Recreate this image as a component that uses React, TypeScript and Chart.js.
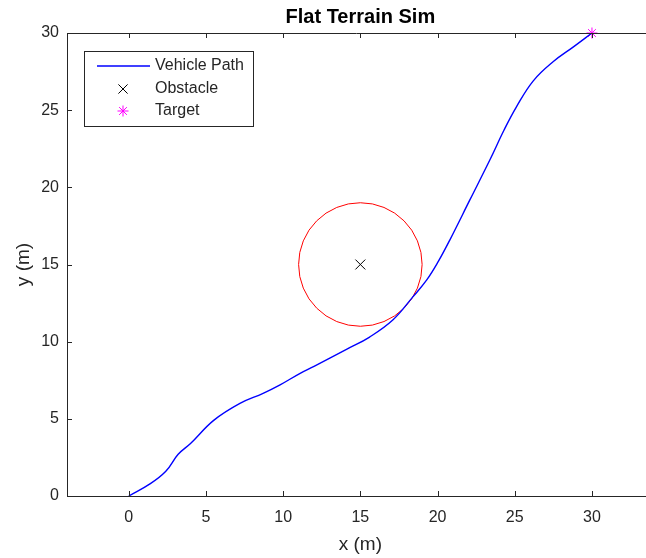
import React, { useEffect, useRef } from "react";
import { Chart, registerables } from "chart.js";

Chart.register(...registerables);

const pathX = [0, 1.4, 2.4, 3.2, 4.0, 5.5, 7.2, 8.7, 9.8, 11.1, 12.0, 14.1, 15.6, 17.1, 18.4, 19.3, 20.05, 20.8, 22.1, 23.4, 24.3, 25.1, 26.2, 27.5, 28.8, 30];
const pathY = [0, 0.8, 1.6, 2.7, 3.4, 4.9, 6.0, 6.65, 7.2, 7.95, 8.4, 9.5, 10.3, 11.4, 12.9, 14.0, 15.2, 16.6, 19.2, 21.8, 23.7, 25.2, 26.9, 28.15, 29.1, 30];
const obstacleX = [15];
const obstacleY = [15];
const obstacleRadius = [4];
const targetX = [30];
const targetY = [30];
const xTickValues = [0, 5, 10, 15, 20, 25, 30];
const yTickValues = [0, 5, 10, 15, 20, 25, 30];
const xRange = [-4, 33.5];
const yRange = [0, 30];
const axesCenterX = 15;
const legendLabels = ["Vehicle Path", "Obstacle", "Target"];
const titleText = "Flat Terrain Sim";
const xLabel = "x (m)";
const yLabel = "y (m)";

const FONT = "'Liberation Sans', Arial, Helvetica, sans-serif";
const AXIS_COLOR = "#262626";

const decorPlugin = {
  id: "decor",
  beforeDatasetsDraw(chart: any) {
    const { ctx, scales } = chart;
    const xs = scales.x, ys = scales.y;
    ctx.save();
    ctx.strokeStyle = "#ff0000";
    ctx.lineWidth = 1;
    obstacleX.forEach((cx, i) => {
      const px = xs.getPixelForValue(cx);
      const py = ys.getPixelForValue(obstacleY[i]);
      const r = xs.getPixelForValue(cx + obstacleRadius[i]) - px;
      ctx.beginPath();
      ctx.arc(px, py, r, 0, Math.PI * 2);
      ctx.stroke();
    });
    ctx.restore();
  },
  afterDraw(chart: any) {
    const { ctx, chartArea, scales } = chart;
    const xs = scales.x, ys = scales.y;
    const L = chartArea.left, R = chartArea.right, T = chartArea.top, B = chartArea.bottom;
    ctx.save();
    ctx.strokeStyle = AXIS_COLOR;
    ctx.lineWidth = 1;
    ctx.beginPath();
    ctx.moveTo(L, Math.round(T) + 0.5);
    ctx.lineTo(R, Math.round(T) + 0.5);
    const tl = 5;
    xTickValues.forEach((v) => {
      const px = Math.round(xs.getPixelForValue(v)) + 0.5;
      ctx.moveTo(px, B);
      ctx.lineTo(px, B - tl);
      ctx.moveTo(px, T);
      ctx.lineTo(px, T + tl);
    });
    yTickValues.forEach((v) => {
      const py = Math.round(ys.getPixelForValue(v)) + 0.5;
      ctx.moveTo(L, py);
      ctx.lineTo(L + tl, py);
    });
    ctx.stroke();

    const cx = xs.getPixelForValue(axesCenterX);
    ctx.fillStyle = "#000";
    ctx.textAlign = "center";
    ctx.textBaseline = "middle";
    ctx.font = `bold 20px ${FONT}`;
    ctx.fillText(titleText, cx, 17);
    ctx.fillStyle = AXIS_COLOR;
    ctx.font = `19px ${FONT}`;
    ctx.fillText(xLabel, cx, 545);
    ctx.save();
    ctx.translate(24, (T + B) / 2);
    ctx.rotate(-Math.PI / 2);
    ctx.fillText(yLabel, 0, 0);
    ctx.restore();

    const lx = 84.5, ly = 51.5, lw = 169, lh = 75;
    ctx.fillStyle = "#fff";
    ctx.fillRect(lx, ly, lw, lh);
    ctx.strokeStyle = AXIS_COLOR;
    ctx.strokeRect(lx, ly, lw, lh);
    const rows = [66, 89, 111];
    ctx.font = `16px ${FONT}`;
    ctx.textAlign = "left";
    ctx.fillStyle = AXIS_COLOR;
    legendLabels.forEach((lab, i) => ctx.fillText(lab, 155, rows[i]));
    ctx.strokeStyle = "#0000ff";
    ctx.lineWidth = 1.4;
    ctx.beginPath();
    ctx.moveTo(97, rows[0]);
    ctx.lineTo(150, rows[0]);
    ctx.stroke();
    const mx = 123;
    ctx.strokeStyle = "#000";
    ctx.lineWidth = 1;
    const d = 4.6;
    ctx.beginPath();
    ctx.moveTo(mx - d, rows[1] - d);
    ctx.lineTo(mx + d, rows[1] + d);
    ctx.moveTo(mx + d, rows[1] - d);
    ctx.lineTo(mx - d, rows[1] + d);
    ctx.stroke();
    ctx.strokeStyle = "#ff00ff";
    const r = 5.5;
    const s = r * Math.SQRT1_2;
    ctx.beginPath();
    ctx.moveTo(mx - r, rows[2]);
    ctx.lineTo(mx + r, rows[2]);
    ctx.moveTo(mx, rows[2] - r);
    ctx.lineTo(mx, rows[2] + r);
    ctx.moveTo(mx - s, rows[2] - s);
    ctx.lineTo(mx + s, rows[2] + s);
    ctx.moveTo(mx + s, rows[2] - s);
    ctx.lineTo(mx - s, rows[2] + s);
    ctx.stroke();
    ctx.restore();
  },
};

export default function App() {
  const ref = useRef<HTMLCanvasElement | null>(null);
  useEffect(() => {
    if (!ref.current) return;
    const chart = new Chart(ref.current, {
      type: "scatter",
      data: {
        datasets: [
          {
            label: legendLabels[0],
            data: pathX.map((x, i) => ({ x, y: pathY[i] })),
            showLine: true,
            borderColor: "#0000ff",
            borderWidth: 1.4,
            pointRadius: 0,
            tension: 0.4,
          },
          {
            label: legendLabels[1],
            data: obstacleX.map((x, i) => ({ x, y: obstacleY[i] })),
            pointStyle: "crossRot",
            pointRadius: 7,
            borderColor: "#000000",
            backgroundColor: "#000000",
            borderWidth: 1,
          },
          {
            label: legendLabels[2],
            data: targetX.map((x, i) => ({ x, y: targetY[i] })),
            pointStyle: "star",
            pointRadius: 5.5,
            borderColor: "#ff00ff",
            backgroundColor: "#ff00ff",
            borderWidth: 1,
            clip: false,
          },
        ],
      } as any,
      options: {
        animation: false,
        responsive: false,
        devicePixelRatio: 1,
        layout: { autoPadding: false, padding: { top: 33, right: 0, left: 0, bottom: 0 } },
        plugins: { legend: { display: false }, title: { display: false }, tooltip: { enabled: false } },
        scales: {
          x: {
            type: "linear",
            min: xRange[0],
            max: xRange[1],
            grid: { display: false, drawTicks: false },
            border: { display: true, color: AXIS_COLOR, width: 1 },
            ticks: { color: AXIS_COLOR, font: { family: FONT, size: 16 }, padding: 12 },
            afterBuildTicks: (s: any) => { s.ticks = xTickValues.map((v) => ({ value: v })); },
            afterFit: (s: any) => { s.height = 62; s.paddingLeft = 0; s.paddingRight = 0; },
          },
          y: {
            type: "linear",
            min: yRange[0],
            max: yRange[1],
            grid: { display: false, drawTicks: false },
            border: { display: true, color: AXIS_COLOR, width: 1 },
            ticks: { color: AXIS_COLOR, font: { family: FONT, size: 16 }, padding: 8 },
            afterBuildTicks: (s: any) => { s.ticks = yTickValues.map((v) => ({ value: v })); },
            afterFit: (s: any) => { s.width = 67; s.paddingTop = 0; s.paddingBottom = 0; },
          },
        },
      } as any,
      plugins: [decorPlugin],
    });
    return () => chart.destroy();
  }, []);
  return (
    <div style={{ position: "fixed", left: 0, top: 0, width: 646, height: 558, overflow: "hidden", background: "#fff" }}>
      <canvas ref={ref} width={646} height={558} style={{ display: "block" }} />
    </div>
  );
}
